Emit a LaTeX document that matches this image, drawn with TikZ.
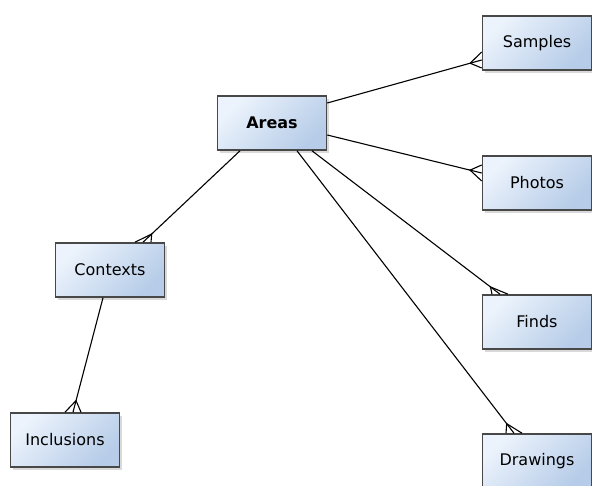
\documentclass[tikz,border=0pt]{standalone}
\usepackage{fontspec}
\setmainfont{DejaVu Sans}
\usetikzlibrary{calc,shadows}
\definecolor{boxlight}{RGB}{236,243,252}
\definecolor{boxdark}{RGB}{182,204,232}
\definecolor{boxline}{RGB}{72,72,72}
\newcommand\crowfoot[4]{\draw[conn] ($(#1)+(#3,#4)$) -- ($(#1)!12pt!(#2)$) -- ($(#1)-(#3,#4)$);}
\begin{document}
\begin{tikzpicture}[x=1pt,y=-1pt,
  entity/.style={draw=boxline, line width=1.6pt, minimum width=109pt, minimum height=54pt,
    left color=boxlight, right color=boxdark, shading angle=45,
    font=\fontsize{16}{19}\selectfont, text=black,
    drop shadow={shadow xshift=2.5pt, shadow yshift=-3pt, opacity=0.3}},
  conn/.style={draw=black, line width=1.1pt}]
\useasboundingbox (0,0) rectangle (592,486);
\node[entity, font=\fontsize{16}{19}\selectfont\bfseries] (areas) at (272,123) {Areas};
\node[entity] (samples) at (537,43) {Samples};
\node[entity] (photos) at (537,183) {Photos};
\node[entity] (finds) at (537,322) {Finds};
\node[entity] (drawings) at (537,461) {Drawings};
\node[entity] (contexts) at (110,270) {Contexts};
\node[entity] (inclusions) at (65,440) {Inclusions};
% connection points
\coordinate (aS) at ($(areas.east)+(0,-20)$);
\coordinate (aP) at ($(areas.east)+(0,12)$);
\coordinate (aF) at ($(areas.south)+(40,0)$);
\coordinate (aD) at ($(areas.south)+(25,0)$);
\coordinate (aC) at ($(areas.south)+(-32,0)$);
\coordinate (sA) at ($(samples.west)+(0,17)$);
\coordinate (pA) at ($(photos.west)+(0,-10)$);
\coordinate (fA) at ($(finds.north)+(-37,0)$);
\coordinate (dA) at ($(drawings.north)+(-23,0)$);
\coordinate (cA) at ($(contexts.north)+(33,0)$);
\coordinate (cI) at ($(contexts.south)+(-7,0)$);
\coordinate (iC) at ($(inclusions.north)+(8,0)$);
\draw[conn] (aS) -- (sA); \crowfoot{sA}{aS}{0}{8}
\draw[conn] (aP) -- (pA); \crowfoot{pA}{aP}{0}{8}
\draw[conn] (aF) -- (fA); \crowfoot{fA}{aF}{8}{0}
\draw[conn] (aD) -- (dA); \crowfoot{dA}{aD}{8}{0}
\draw[conn] (aC) -- (cA); \crowfoot{cA}{aC}{8}{0}
\draw[conn] (cI) -- (iC); \crowfoot{iC}{cI}{8}{0}
\end{tikzpicture}
\end{document}
